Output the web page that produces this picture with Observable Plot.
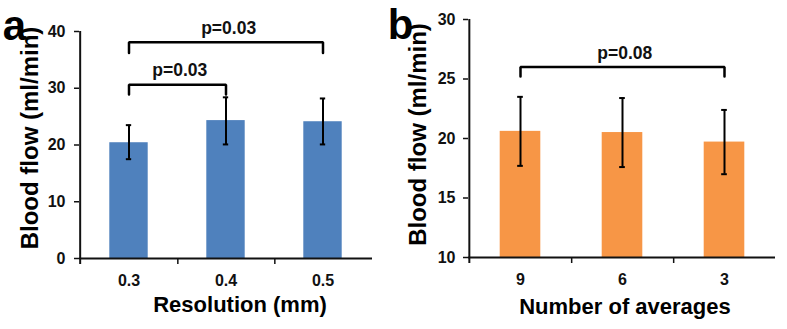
<!DOCTYPE html>
<html><head><meta charset="utf-8">
<script src="https://cdn.jsdelivr.net/npm/d3@7"></script>
<script src="https://cdn.jsdelivr.net/npm/@observablehq/plot@0.6"></script>
<style>
body{margin:0;background:#fff;}
#wrap{display:flex;width:787px;height:329px;overflow:hidden;}
#wrap svg{overflow:visible;}
</style></head><body><div id="wrap"></div>
<script>
// Panel a: Resolution
const resCats = ["0.3", "0.4", "0.5"];
const resMean = [20.4, 24.3, 24.1];
const resLow = [17.5, 20.1, 20.1];
const resHigh = [23.5, 28.4, 28.2];
const resTicks = [0, 10, 20, 30, 40];
const resBrFrom = ["0.3", "0.3"];
const resBrTo = ["0.4", "0.5"];
const resBrY = [30.6, 38.1];
const resBrDrop = [28.9, 36.2];
const resBrLabel = ["p=0.03", "p=0.03"];

// Panel b: Number of averages
const avgCats = ["9", "6", "3"];
const avgMean = [20.6, 20.5, 19.7];
const avgLow = [17.7, 17.6, 17.0];
const avgHigh = [23.5, 23.4, 22.4];
const avgTicks = [10, 15, 20, 25, 30];
const avgBrFrom = ["9"];
const avgBrTo = ["3"];
const avgBrY = [26.0];
const avgBrDrop = [25.2];
const avgBrLabel = ["p=0.08"];

function panel(o) {
  const rows = o.cats.map((c, i) => ({cat: c, mean: o.mean[i], low: o.low[i], high: o.high[i]}));
  const fh = o.height - o.mt - o.mb;
  const bw = (o.width - o.ml - o.mr) / o.cats.length;
  const y0 = o.ticks[0], y1 = o.ticks[o.ticks.length - 1];
  const k = (y1 - y0) / fh * 6; // 6px downward tick in data units
  const brPts = [];
  o.brFrom.forEach((f, i) => {
    const t = o.brTo[i];
    brPts.push({id: i, x: f, y: o.brDrop[i]}, {id: i, x: f, y: o.brY[i]},
               {id: i, x: t, y: o.brY[i]}, {id: i, x: t, y: o.brDrop[i]});
  });
  const brTexts = o.brFrom.map((f, i) => {
    const a = o.cats.indexOf(f), b = o.cats.indexOf(o.brTo[i]);
    return Plot.text([{x: f, y: o.brY[i], t: o.brLabel[i]}], {
      x: "x", y: "y", text: "t", dx: (b - a) * bw / 2 + 2, dy: -14,
      fontSize: 17.5, fontWeight: "bold", fill: "#111"
    });
  });
  const txt = {textAnchor: "middle", lineAnchor: "middle", fontWeight: "bold", fill: "#000"};
  return Plot.plot({
    width: o.width, height: o.height,
    marginLeft: o.ml, marginRight: o.mr, marginTop: o.mt, marginBottom: o.mb,
    style: {fontFamily: "'Liberation Sans', Arial, sans-serif", fontWeight: "bold", color: "#111", background: "#fff"},
    x: {type: "band", domain: o.cats, padding: 0, axis: null},
    y: {domain: [y0, y1], axis: null},
    marks: [
      Plot.barY(rows, {x: "cat", y1: y0, y2: "mean", fill: o.color, insetLeft: bw * 0.3, insetRight: bw * 0.3}),
      Plot.ruleX(rows, {x: "cat", y1: "low", y2: "high", stroke: "#000", strokeWidth: 2}),
      Plot.tickY(rows, {x: "cat", y: "high", stroke: "#000", strokeWidth: 2, insetLeft: bw / 2 - 3, insetRight: bw / 2 - 3}),
      Plot.tickY(rows, {x: "cat", y: "low", stroke: "#000", strokeWidth: 2, insetLeft: bw / 2 - 3, insetRight: bw / 2 - 3}),
      Plot.ruleY([y0], {stroke: "#111", strokeWidth: 2}),
      Plot.ruleX([o.cats[0]], {dx: -bw / 2, y1: y0 - k, y2: y1, stroke: "#111", strokeWidth: 2}),
      Plot.ruleX(o.cats.slice(0, -1), {x: d => d, dx: bw / 2, y1: y0 - k, y2: y0, stroke: "#111", strokeWidth: 1.5}),
      Plot.axisY({ticks: o.ticks, tickSize: 5, tickFormat: () => "", label: null, stroke: "#111", strokeWidth: 1.5}),
      // tick labels
      Plot.text(o.ticks, {y: d => d, text: d => String(d), frameAnchor: "left", textAnchor: "end", lineAnchor: "middle",
        dx: -(5 + o.tp), fontSize: 16, fontWeight: "bold", fill: "#111"}),
      Plot.text(o.cats, {x: d => d, text: d => d, frameAnchor: "bottom", textAnchor: "middle", lineAnchor: "middle",
        dy: 22, fontSize: 16, fontWeight: "bold", fill: "#111"}),
      Plot.line(brPts, {x: "x", y: "y", z: "id", stroke: "#000", strokeWidth: 2.5, strokeLinejoin: "miter"}),
      ...brTexts,
      Plot.text([o.xTitle], {...txt, frameAnchor: "bottom", dx: o.xdx, dy: o.xdy, fontSize: 22}),
      Plot.text([o.yTitle], {...txt, frameAnchor: "left", rotate: -90, dx: o.ydx, dy: o.ydy, fontSize: 24}),
      Plot.text([o.letter], {...txt, frameAnchor: "top-left", dx: o.ldx, dy: o.ldy, fontSize: 42})
    ]
  });
}

const wrap = document.getElementById("wrap");
wrap.appendChild(panel({
  width: 385, height: 329, ml: 79, mr: 13, mt: 31, mb: 71,
  cats: resCats, mean: resMean, low: resLow, high: resHigh, ticks: resTicks,
  brFrom: resBrFrom, brTo: resBrTo, brY: resBrY, brDrop: resBrDrop, brLabel: resBrLabel,
  color: "#4F81BD", tp: 9,
  xTitle: "Resolution (mm)", xdx: 14, xdy: 46.5,
  yTitle: "Blood flow (ml/min)", ydx: -49, ydy: -7,
  letter: "a", ldx: -65, ldy: -5
}));
wrap.appendChild(panel({
  width: 402, height: 329, ml: 83, mr: 12, mt: 19, mb: 72,
  cats: avgCats, mean: avgMean, low: avgLow, high: avgHigh, ticks: avgTicks,
  brFrom: avgBrFrom, brTo: avgBrTo, brY: avgBrY, brDrop: avgBrDrop, brLabel: avgBrLabel,
  color: "#F79646", tp: 8,
  xTitle: "Number of averages", xdx: 3, xdy: 49,
  yTitle: "Blood flow (ml/min)", ydx: -50, ydy: -4,
  letter: "b", ldx: -68, ldy: 6
}));
</script></body></html>
